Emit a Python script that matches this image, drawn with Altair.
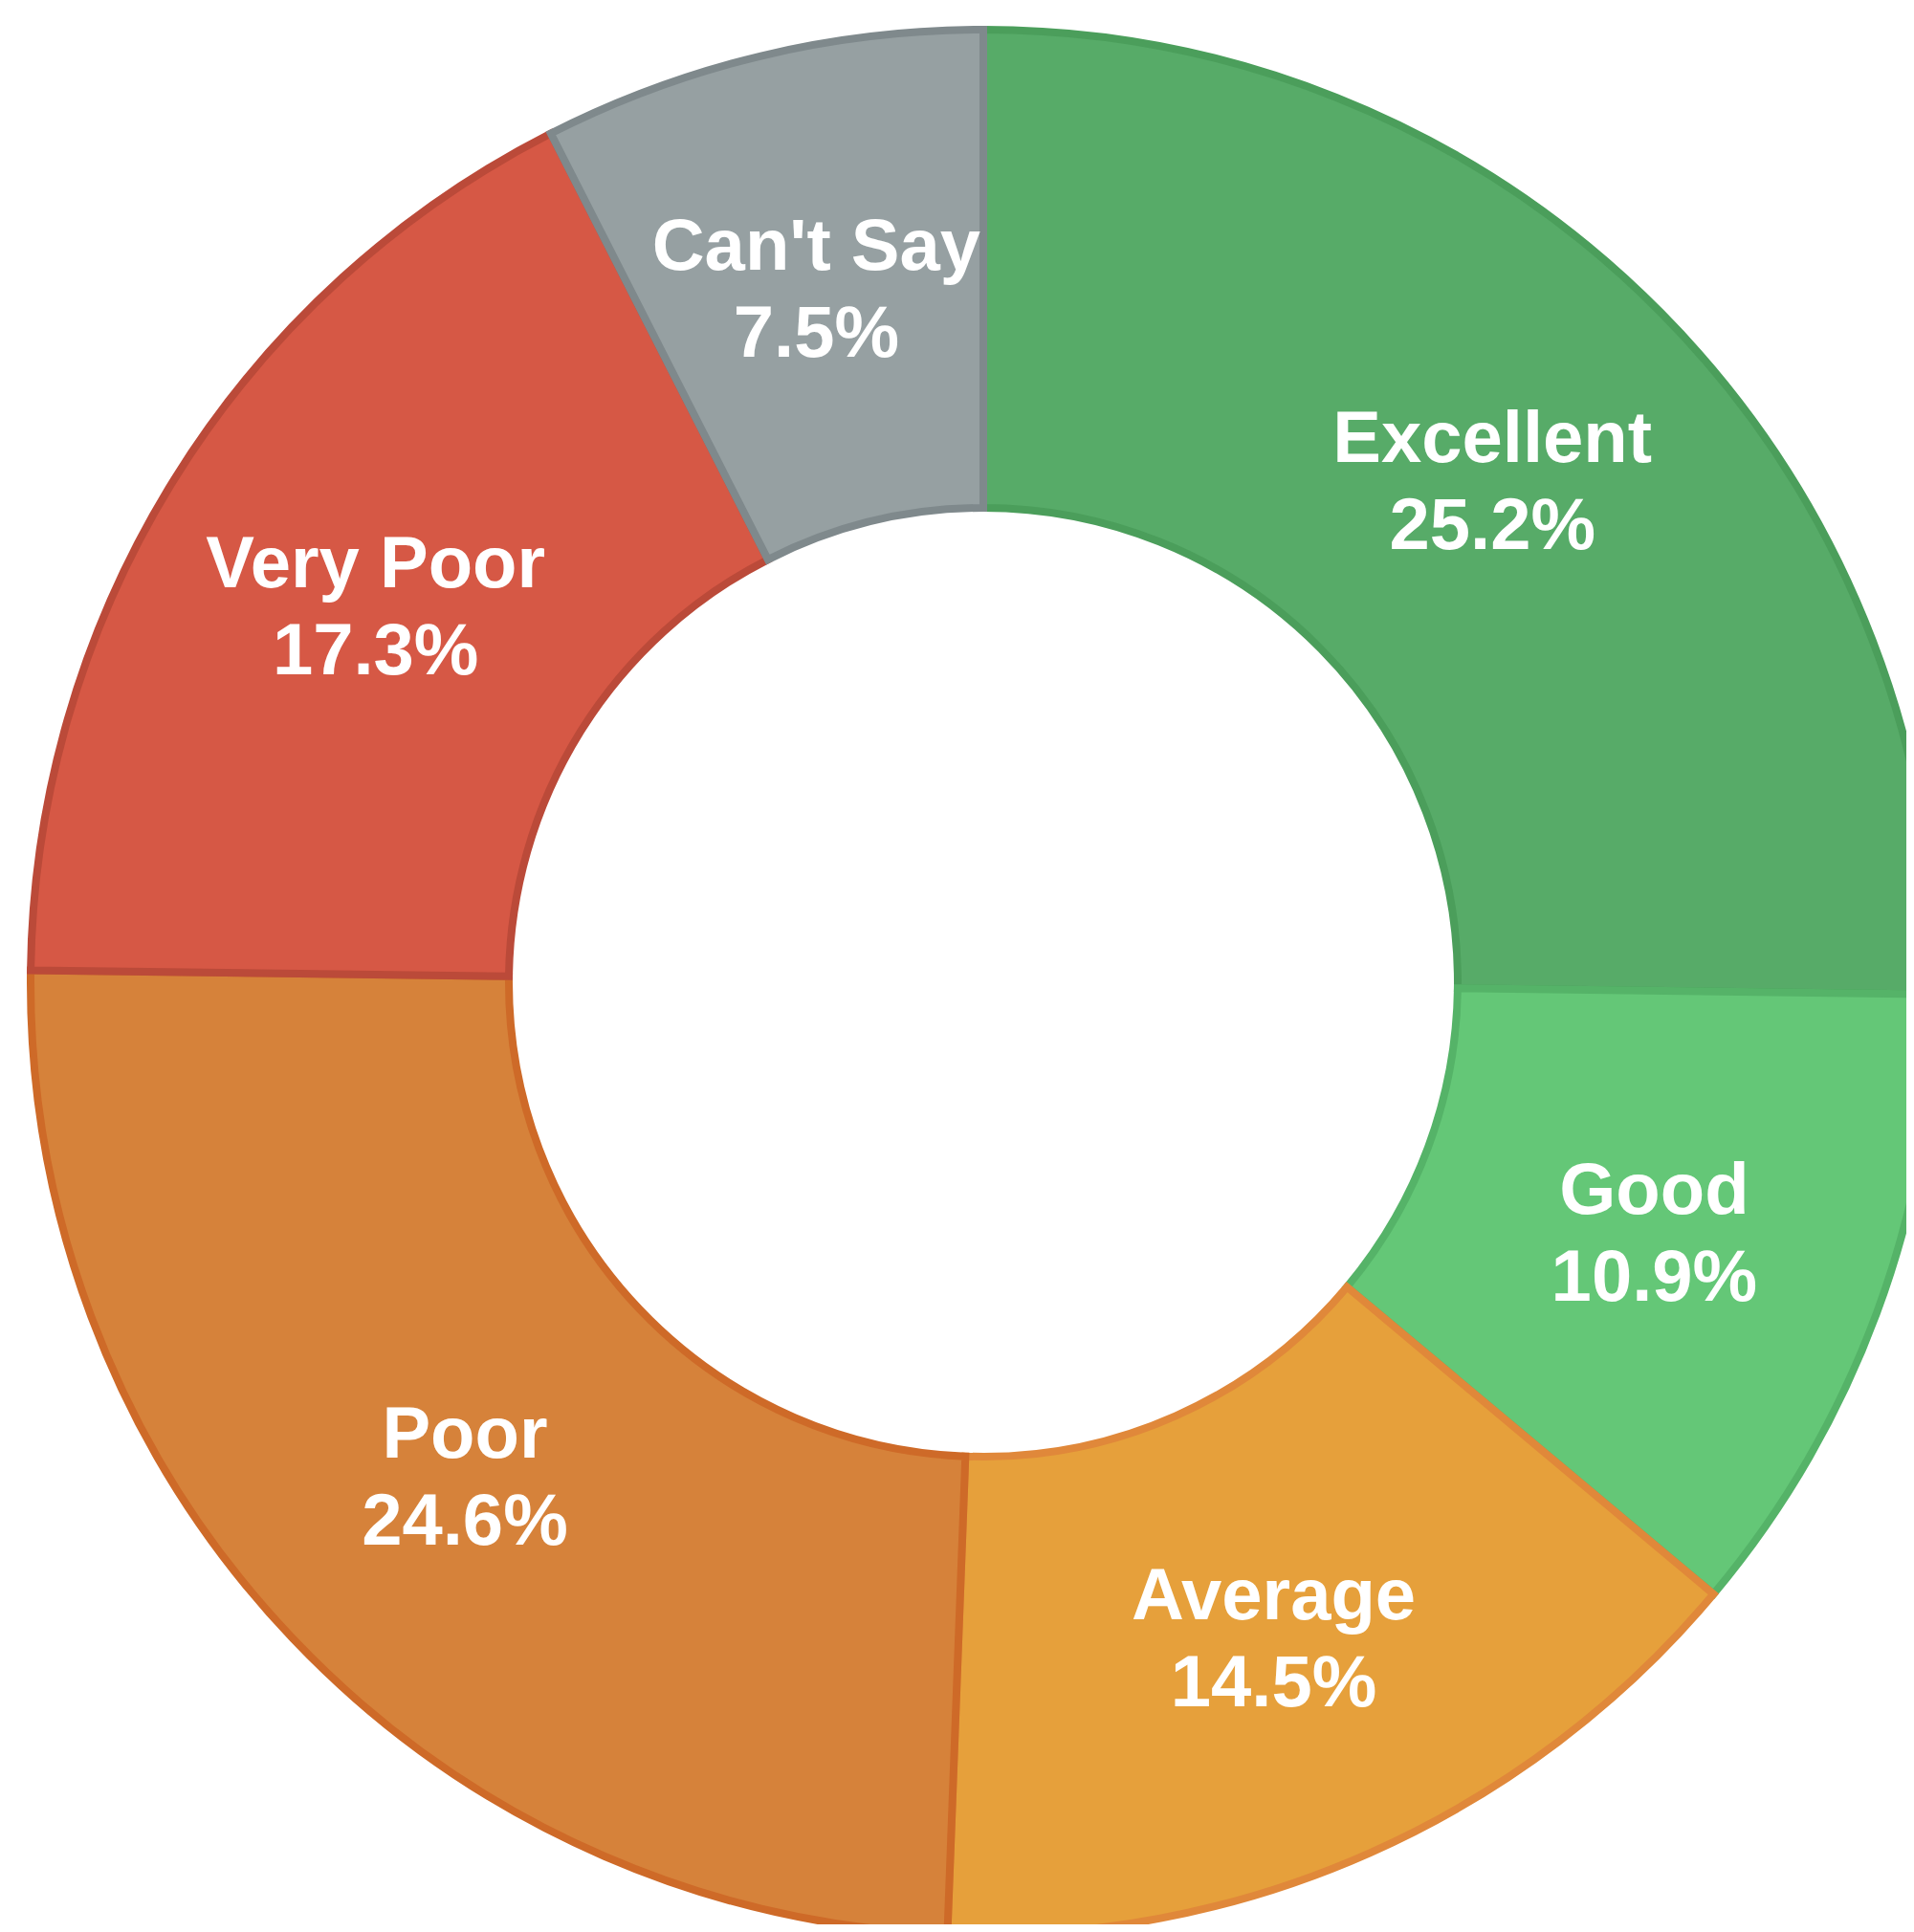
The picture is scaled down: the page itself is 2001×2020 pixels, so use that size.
import altair as alt
import pandas as pd

categories = ["Excellent", "Good", "Average", "Poor", "Very Poor", "Can't Say"]
values = [25.2, 10.9, 14.5, 24.6, 17.3, 7.5]
fill_colors = ["#57AB68", "#64C777", "#E6A03B", "#D6823A", "#D65845", "#96A0A2"]
stroke_colors = ["#4B9E5B", "#55B368", "#E0883A", "#CE6A28", "#BB4A39", "#7F898C"]

df = pd.DataFrame({
    "category": categories,
    "value": values,
    "order": list(range(len(categories))),
    "pct": [f"{v:.1f}%" for v in values],
})

CX, CY = 1020, 1019
R_OUT, R_IN = 996, 496
R_LABEL = 748

base = alt.Chart(df).encode(
    theta=alt.Theta("value:Q", stack=True),
    order=alt.Order("order:Q", sort="ascending"),
)

arcs = base.mark_arc(outerRadius=R_OUT, innerRadius=R_IN, strokeWidth=8).encode(
    x=alt.value(CX),
    y=alt.value(CY),
    color=alt.Color("category:N", scale=alt.Scale(domain=categories, range=fill_colors), legend=None),
    stroke=alt.Stroke("category:N", scale=alt.Scale(domain=categories, range=stroke_colors), legend=None),
)

name_text = base.mark_text(
    radius=R_LABEL, font="Liberation Sans", fontWeight="bold", fontSize=76,
    color="white", baseline="alphabetic", align="center", dy=-18,
).encode(x=alt.value(CX), y=alt.value(CY), text="category:N")

pct_text = base.mark_text(
    radius=R_LABEL, font="Liberation Sans", fontWeight="bold", fontSize=76,
    color="white", baseline="alphabetic", align="center", dy=73,
).encode(x=alt.value(CX), y=alt.value(CY), text="pct:N")

chart = alt.layer(arcs, name_text, pct_text).properties(
    width=1985, height=2004,
    autosize=alt.AutoSizeParams(type="none"),
    padding=0,
).configure_view(stroke=None)

chart.save("out.html", embed_options={"renderer": "svg", "actions": False})
